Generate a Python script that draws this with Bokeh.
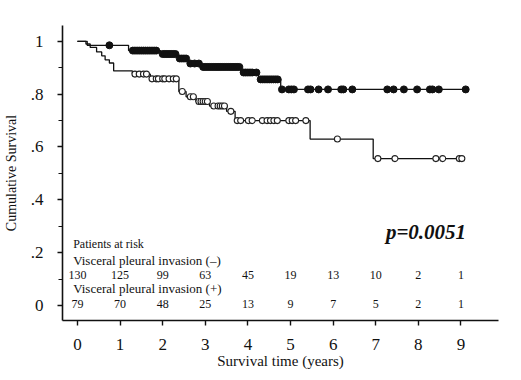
import numpy as np
from bokeh.plotting import figure
from bokeh.models import Range1d, FixedTicker, ColumnDataSource, Label
from bokeh.core.properties import value
from bokeh.embed import file_html
from bokeh.resources import INLINE

# Step curves: time of each drop and survival after it
neg_times = [0, 0.23, 1.2, 1.95, 2.35, 2.6, 2.9, 3.83, 4.25, 4.77]
neg_surv = [1.0, 0.985, 0.965, 0.952, 0.935, 0.916, 0.903, 0.882, 0.856, 0.818]
neg_end = 9.11
neg_censor = [0.75, 1.3, 1.35, 1.4, 1.45, 1.5, 1.55, 1.6, 1.65, 1.7, 1.75, 1.8, 1.85,
              2.0, 2.05, 2.1, 2.15, 2.2, 2.25, 2.3, 2.4, 2.45, 2.5, 2.55,
              2.65, 2.75, 2.85, 2.95, 3.0, 3.05, 3.1, 3.15, 3.2, 3.25, 3.3, 3.35,
              3.4, 3.45, 3.5, 3.55, 3.6, 3.65, 3.7, 3.75, 3.8,
              3.9, 3.95, 4.0, 4.05, 4.1, 4.2, 4.3, 4.35, 4.4, 4.45, 4.5, 4.55,
              4.6, 4.65, 4.7, 4.8, 4.96, 5.02, 5.08, 5.41, 5.47, 5.66, 5.88,
              6.19, 6.24, 6.45, 7.27, 7.42, 7.66, 7.97, 8.27, 8.33, 8.48, 9.11]

pos_times = [0, 0.2, 0.3, 0.45, 0.57, 0.65, 0.75, 0.85, 1.29, 1.71, 2.38, 2.55,
             2.78, 3.1, 3.5, 3.7, 5.46, 6.94]
pos_surv = [1.0, 0.99, 0.977, 0.96, 0.945, 0.93, 0.918, 0.888, 0.876, 0.858, 0.81,
            0.79, 0.772, 0.755, 0.735, 0.70, 0.63, 0.556]
pos_end = 9.02
pos_censor = [1.35, 1.45, 1.55, 1.62, 1.75, 1.85, 1.9, 2.0, 2.05, 2.15, 2.25, 2.32,
              2.46, 2.65, 2.72, 2.85, 2.9, 2.95, 3.0, 3.05, 3.2, 3.3, 3.35, 3.4,
              3.45, 3.6, 3.75, 3.83, 4.01, 4.10, 4.34, 4.45, 4.53, 4.61, 4.69,
              4.96, 5.04, 5.12, 5.36, 6.10, 7.05, 7.45, 8.41, 8.57, 8.96, 9.02]

years = [0, 1, 2, 3, 4, 5, 6, 7, 8, 9]
risk_neg = [130, 125, 99, 63, 45, 19, 13, 10, 2, 1]
risk_pos = [79, 70, 48, 25, 13, 9, 7, 5, 2, 1]
y_ticks = [0, 0.2, 0.4, 0.6, 0.8, 1.0]
y_tick_labels = ["0", ".2", ".4", ".6", ".8", "1"]
p_text = "p=0.0051"

FONT = "Liberation Serif"

p = figure(width=510, height=376, output_backend="svg", toolbar_location=None,
           x_range=Range1d(-0.35, 9.88), y_range=Range1d(-0.057, 1.06),
           min_border_left=62, min_border_right=12, min_border_top=25,
           min_border_bottom=56)
p.outline_line_color = None
p.grid.visible = False
p.background_fill_color = "white"


def step_xy(times, surv, end):
    xs, ys = [], []
    for i, (t, s) in enumerate(zip(times, surv)):
        nxt = times[i + 1] if i + 1 < len(times) else end
        xs += [t, nxt]
        ys += [s, s]
    return xs, ys


def lookup(times, surv, t):
    idx = np.searchsorted(np.array(times), t, side="right") - 1
    return [surv[i] for i in idx]


nx, ny = step_xy(neg_times, neg_surv, neg_end)
px_, py_ = step_xy(pos_times, pos_surv, pos_end)
p.line(nx, ny, line_color="#111111", line_width=1.3)
p.line(px_, py_, line_color="#111111", line_width=1.3)

p.scatter(neg_censor, lookup(neg_times, neg_surv, neg_censor), size=7,
          marker="circle", fill_color="#111111", line_color="#111111")
p.scatter(pos_censor, lookup(pos_times, pos_surv, pos_censor), size=6,
          marker="circle", fill_color="white", line_color="#222222", line_width=1.1)

# axes styling
for ax in (p.xaxis[0], p.yaxis[0]):
    ax.axis_line_color = "#111111"
    ax.axis_line_width = 1.6
    ax.major_tick_line_color = "#111111"
    ax.major_tick_line_width = 1.4
    ax.major_tick_in = 0
    ax.major_tick_out = 5
    ax.major_label_text_font = FONT
    ax.major_label_text_font_size = "17px"
    ax.major_label_text_color = "#111111"
    ax.axis_label_text_font = FONT
    ax.axis_label_text_font_style = "normal"
    ax.axis_label_text_color = "#111111"

p.xaxis.ticker = FixedTicker(ticks=years)
p.xaxis.minor_tick_line_color = None
p.xaxis.major_label_standoff = 13
p.xaxis.axis_label = "Survival time (years)"
p.xaxis.axis_label_text_font_size = "15px"
p.xaxis.axis_label_standoff = 0

p.yaxis.ticker = FixedTicker(ticks=y_ticks, minor_ticks=[0.1, 0.3, 0.5, 0.7, 0.9])
p.yaxis.major_label_overrides = {t: l for t, l in zip(y_ticks, y_tick_labels)}
p.yaxis.minor_tick_in = 0
p.yaxis.minor_tick_out = 4
p.yaxis.minor_tick_line_color = "#111111"
p.yaxis.minor_tick_line_width = 1.2
p.yaxis.major_label_standoff = 14
p.yaxis.axis_label = "Cumulative Survival"
p.yaxis.axis_label_text_font_size = "14px"
p.yaxis.axis_label_standoff = 9

# at-risk table
head_style = dict(text_font=FONT, text_font_size="12px", text_baseline="middle",
                  text_color="#111111")
row_style = dict(text_font=FONT, text_font_size="13px", text_baseline="middle",
                 text_color="#111111")
p.add_layout(Label(x=-0.1, y=0.231, text="Patients at risk", **head_style))
p.add_layout(Label(x=-0.1, y=0.17, text="Visceral pleural invasion (\u2013)", **row_style))
p.add_layout(Label(x=-0.1, y=0.064, text="Visceral pleural invasion (+)", **row_style))
src_n = ColumnDataSource(dict(x=years, y=[0.117] * len(years), t=[str(v) for v in risk_neg]))
src_p = ColumnDataSource(dict(x=years, y=[0.004] * len(years), t=[str(v) for v in risk_pos]))
for src in (src_n, src_p):
    p.text(x="x", y="y", text="t", source=src, text_font=value(FONT),
           text_font_size="12px", text_align="center", text_baseline="middle",
           text_color="#111111")

p.add_layout(Label(x=9.12, y=0.277, text=p_text, text_font=FONT, text_font_size="21px",
                   text_font_style="bold italic", text_align="right",
                   text_baseline="middle", text_color="#111111"))

open("out.html", "w").write(file_html(p, INLINE))
